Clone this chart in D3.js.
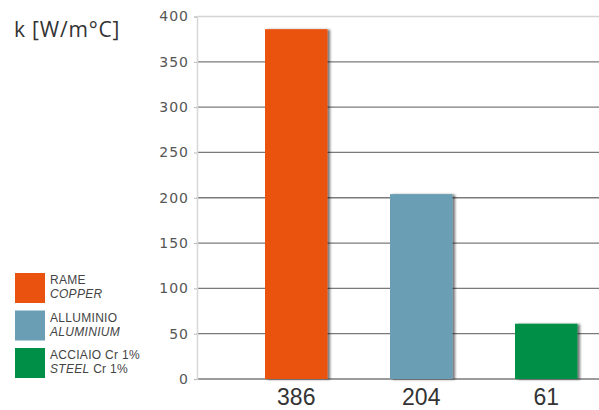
<!DOCTYPE html>
<html>
<head>
<meta charset="utf-8">
<script src="https://cdn.jsdelivr.net/npm/d3@7"></script>
<style>
  html, body { margin: 0; padding: 0; background: #fff; }
  svg { display: block; }
</style>
</head>
<body>
<svg id="chart" width="599" height="410"></svg>
<script>
// Thermal conductivity of three metals
const materials = ["RAME", "ALLUMINIO", "ACCIAIO Cr 1%"];
const materialsEn = ["COPPER", "ALUMINIUM", "STEEL"];
const materialsEnSuffix = ["", "", " Cr 1%"];
const conductivity = [386, 204, 61];
const barColors = ["#E9520F", "#6A9EB5", "#008F46"];
const yTicks = [0, 50, 100, 150, 200, 250, 300, 350, 400];
const unitLabel = "k [W/m°C]";

const svg = d3.select("#chart");

const x = d3.scaleBand()
  .domain(materials)
  .range([202.5, 640])
  .paddingInner(0.5)
  .paddingOuter(0.5);

const y = d3.scaleLinear().domain([0, 400]).range([379, 16.5]);

// soft shadow on the right side of each bar
const defs = svg.append("defs");
const f = defs.append("filter").attr("id", "shadow")
  .attr("x", "-10%").attr("y", "-10%").attr("width", "130%").attr("height", "120%");
f.append("feDropShadow").attr("dx", 2.5).attr("dy", 0.5)
  .attr("stdDeviation", 1.3).attr("flood-color", "#000").attr("flood-opacity", 0.55);

// horizontal gridlines
svg.append("g").selectAll("line")
  .data(yTicks)
  .join("line")
  .attr("x1", 197).attr("x2", 599)
  .attr("y1", d => y(d)).attr("y2", d => y(d))
  .attr("stroke", d => d === 400 ? "#d4d4d4" : "#7a7a7a")
  .attr("stroke-width", d => d === 400 ? 1.5 : 1.3);

// left axis with tick labels
const yAxis = d3.axisLeft(y).tickValues(yTicks).tickSize(3).tickPadding(5);
const ay = svg.append("g").attr("transform", "translate(197,0)").call(yAxis);
ay.select(".domain").attr("stroke", "#d8d8d8").attr("stroke-width", 1.5);
ay.selectAll(".tick line").attr("stroke", "#bbb");
ay.selectAll(".tick text")
  .attr("font-family", "DejaVu Sans, Verdana, sans-serif")
  .attr("font-size", 14)
  .attr("letter-spacing", 1)
  .attr("fill", "#555");

// bars
svg.append("g").selectAll("rect")
  .data(materials)
  .join("rect")
  .attr("x", d => x(d))
  .attr("width", x.bandwidth())
  .attr("y", (d, i) => y(conductivity[i]))
  .attr("height", (d, i) => y(0) - y(conductivity[i]))
  .attr("fill", (d, i) => barColors[i])
  .attr("filter", "url(#shadow)");

// value labels under the bars
svg.append("g").selectAll("text")
  .data(materials)
  .join("text")
  .attr("x", d => x(d) + x.bandwidth() / 2)
  .attr("y", 405)
  .attr("text-anchor", "middle")
  .attr("font-family", "Liberation Sans, Arial, sans-serif")
  .attr("font-size", 23)
  .attr("fill", "#333")
  .text((d, i) => conductivity[i]);

// unit label
svg.append("text")
  .attr("x", 14).attr("y", 37)
  .attr("font-family", "Open Sans, Liberation Sans, sans-serif")
  .attr("font-size", 21)
  .attr("letter-spacing", 0.8)
  .attr("fill", "#333")
  .text(unitLabel);

// legend
const legend = svg.append("g").selectAll("g")
  .data(materials)
  .join("g")
  .attr("transform", (d, i) => `translate(15,${273 + i * 37.5})`);
legend.append("rect")
  .attr("width", 30).attr("height", 30)
  .attr("fill", (d, i) => barColors[i]);
legend.append("text")
  .attr("x", 35).attr("y", 11)
  .attr("font-family", "Liberation Sans, Arial, sans-serif")
  .attr("font-size", 12)
  .attr("letter-spacing", 0.3)
  .attr("fill", "#444")
  .text(d => d);
const second = legend.append("text")
  .attr("x", 35).attr("y", 25)
  .attr("font-family", "Liberation Sans, Arial, sans-serif")
  .attr("font-size", 12)
  .attr("letter-spacing", 0.3)
  .attr("fill", "#444");
second.append("tspan")
  .attr("font-style", "italic")
  .text((d, i) => materialsEn[i]);
second.append("tspan")
  .text((d, i) => materialsEnSuffix[i]);
</script>
</body>
</html>
